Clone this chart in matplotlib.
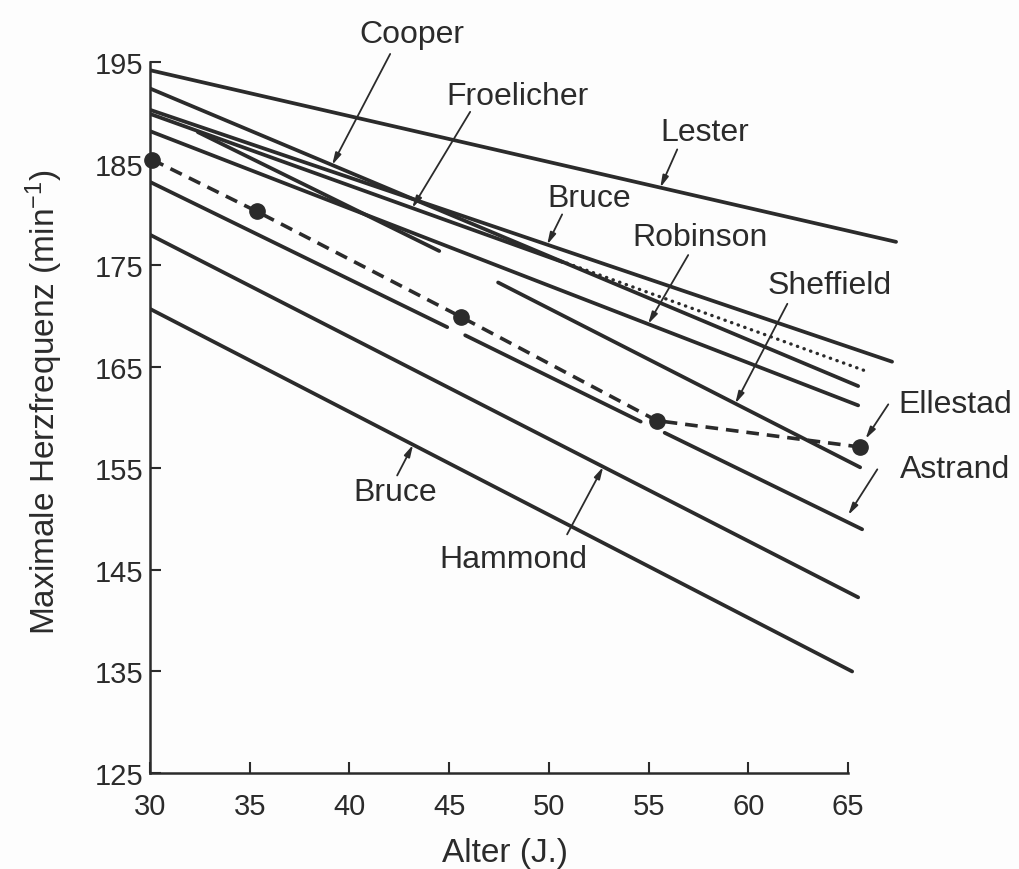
import matplotlib
matplotlib.use('Agg')
import matplotlib.pyplot as plt
import numpy as np

plt.rcParams['font.family'] = ['Liberation Sans', 'DejaVu Sans']
plt.rcParams['mathtext.fontset'] = 'custom'
plt.rcParams['mathtext.rm'] = 'Liberation Sans'
plt.rcParams['mathtext.it'] = 'Liberation Sans'

INK = '#2b2b2b'

# regression lines: age (J.) vs max. heart rate (min^-1)
lester_age = [30, 67.4]
lester_hf = [194.2, 177.3]

cooper_age = [30, 65.5]
cooper_hf = [192.4, 163.1]

froelicher_age = [30, 50.7]
froelicher_hf = [189.9, 175.3]
froelicher_dot_age = [50.9, 66.0]
froelicher_dot_hf = [175.2, 164.5]

bruce_age = [30, 67.2]
bruce_hf = [190.3, 165.5]

robinson_age = [30, 65.5]
robinson_hf = [188.2, 161.2]

sheffield_age = [32.4, 44.5, np.nan, 47.45, 65.6]
sheffield_hf = [188.1, 176.4, np.nan, 173.3, 155.1]

astrand_age = [30, 44.9, np.nan, 45.8, 54.6, np.nan, 55.8, 65.7]
astrand_hf = [183.2, 168.9, np.nan, 168.1, 159.6, np.nan, 158.5, 149.0]

hammond_age = [30, 65.5]
hammond_hf = [178.0, 142.3]

bruce2_age = [30, 65.2]
bruce2_hf = [170.7, 135.0]

# measured group values
ellestad_age = [30.1, 35.35, 45.6, 55.4, 65.6]
ellestad_hf = [185.4, 180.3, 169.9, 159.7, 157.1]


def on_line(ages, hfs, a):
    ages = np.asarray(ages, float)
    hfs = np.asarray(hfs, float)
    ok = ~np.isnan(ages)
    return a, float(np.interp(a, ages[ok], hfs[ok]))


fig = plt.figure(figsize=(10.19, 8.7), dpi=100)
fig.patch.set_facecolor('#fdfdfd')
ax = fig.add_axes([0.1472, 0.1103, 0.7439, 0.8172])
ax.set_facecolor('#fdfdfd')

lw = 2.7
for a, h in [(lester_age, lester_hf), (cooper_age, cooper_hf),
             (froelicher_age, froelicher_hf), (bruce_age, bruce_hf),
             (robinson_age, robinson_hf), (sheffield_age, sheffield_hf),
             (astrand_age, astrand_hf), (hammond_age, hammond_hf),
             (bruce2_age, bruce2_hf)]:
    ax.plot(a, h, color=INK, lw=lw, solid_capstyle='round')

ax.plot(froelicher_dot_age, froelicher_dot_hf, color=INK, lw=2.4,
        linestyle=(0, (0.1, 2.0)), dash_capstyle='round')

ax.plot(ellestad_age, ellestad_hf, color=INK, lw=2.6,
        linestyle=(0, (3.5, 2.2)), clip_on=False)
ax.plot(ellestad_age, ellestad_hf, 'o', color=INK, ms=11, clip_on=False)

ax.set_xlim(30, 68)
ax.set_ylim(125, 195)
ax.set_xticks(range(30, 70, 5))
ax.set_yticks(range(125, 200, 10))
for s in ['top', 'right']:
    ax.spines[s].set_visible(False)
ax.spines['bottom'].set_bounds(30, 65)
ax.spines['left'].set_bounds(125, 195)
for s in ['bottom', 'left']:
    ax.spines[s].set_linewidth(1.8)
    ax.spines[s].set_color(INK)
ax.tick_params(direction='in', length=8, width=1.5, color=INK,
               labelsize=21, labelcolor=INK)
ax.tick_params(axis='x', pad=14)
ax.tick_params(axis='y', pad=5)

ax.set_xlabel('Alter (J.)', fontsize=24, color=INK)
ax.xaxis.set_label_coords(0.468, -0.09)
ax.set_ylabel('Maximale Herzfrequenz (min$^{-1}$)', fontsize=24, color=INK)
ax.yaxis.label.set_rotation_mode('default')
ax.yaxis.label.set_va('center')
ax.yaxis.label.set_ha('center')
ax.yaxis.set_label_coords(-0.139, 0.523)

arrow = dict(arrowstyle='-|>,head_length=0.7,head_width=0.18', color=INK,
             lw=1.3, shrinkA=0, shrinkB=0)

labels = [
    ('Cooper', (43.14, 197.76), (42.04, 195.8), on_line(cooper_age, cooper_hf, 39.13)),
    ('Froelicher', (48.40, 191.65), (46.05, 190.1), on_line(froelicher_age, froelicher_hf, 43.14)),
    ('Lester', (57.83, 188.11), (56.43, 186.4), on_line(lester_age, lester_hf, 55.58)),
    ('Bruce', (52.02, 181.61), (50.66, 180.0), on_line(bruce_age, bruce_hf, 49.91)),
    ('Robinson', (57.58, 177.77), (56.98, 176.0), on_line(robinson_age, robinson_hf, 54.97)),
    ('Sheffield', (64.05, 173.04), (61.95, 171.2), on_line(sheffield_age[3:], sheffield_hf[3:], 59.34)),
    ('Bruce', (42.29, 152.67), (42.39, 154.3), on_line(bruce2_age, bruce2_hf, 43.19)),
    ('Hammond', (48.2, 146.07), (50.91, 148.5), on_line(hammond_age, hammond_hf, 52.72)),
]
for name, txt, tail, tip in labels:
    ax.text(*txt, name, fontsize=23, color=INK, ha='center', va='center')
    ax.annotate('', xy=tip, xytext=tail, arrowprops=arrow, annotation_clip=False)

ax.text(70.37, 161.33, 'Ellestad', fontsize=23, color=INK, ha='center', va='center', clip_on=False)
ax.annotate('', xy=(ellestad_age[-1], ellestad_hf[-1]), xytext=(67.01, 161.3),
            arrowprops=dict(arrow, shrinkB=7), annotation_clip=False)
ax.text(70.37, 154.93, 'Astrand', fontsize=23, color=INK, ha='center', va='center', clip_on=False)
ax.annotate('', xy=(65.0, 150.4), xytext=(66.46, 154.9),
            arrowprops=arrow, annotation_clip=False)

fig.savefig('out.png', dpi=100, facecolor=fig.get_facecolor())
